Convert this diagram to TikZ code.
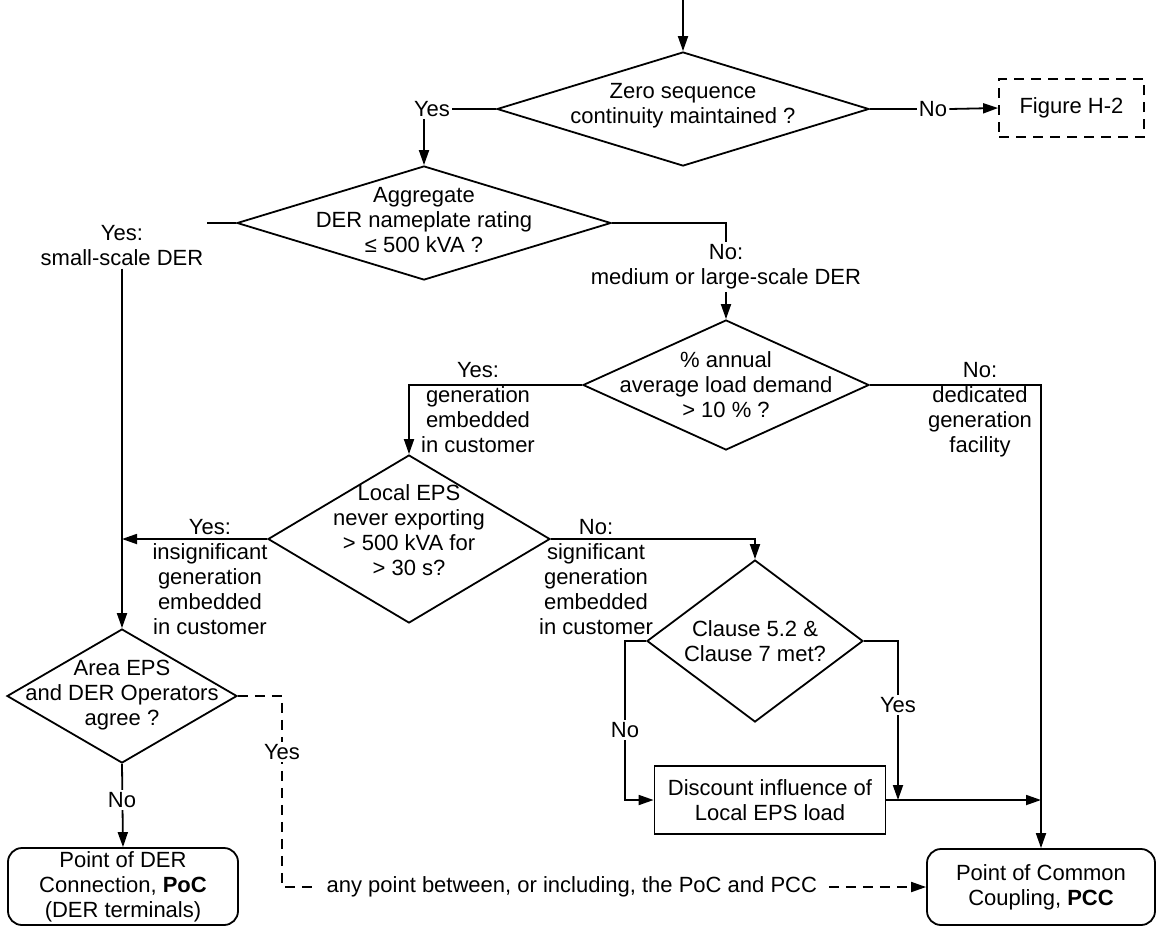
\documentclass[tikz,border=0pt]{standalone}
\usepackage{fontspec}
\setmainfont{Liberation Sans}
\usetikzlibrary{shapes.geometric,arrows.meta}
\begin{document}
\begin{tikzpicture}[x=0.5pt,y=-0.5pt,
  lbl/.style={font=\fontsize{11}{12.5}\selectfont, align=center, inner sep=1pt},
  ln/.style={line width=0.9pt},
  arr/.style={ln, -{Triangle[length=7.5pt,width=5pt]}},
  dsh/.style={dash pattern=on 5pt off 3.5pt},
  dia/.style 2 args={draw, ln, diamond, inner sep=0pt, minimum width=#1, minimum height=#2},
  box/.style={draw, ln, lbl, inner sep=0pt},
  wlbl/.style={lbl, fill=white}
]
\useasboundingbox (0,0) rectangle (1157,928);
% nodes
\coordinate (start) at (683,0);
\node[dia={186pt}{57pt}] (zero) at (683,109) {};
\node[lbl] (zerot) at (683,106) {Zero sequence\\continuity maintained ?};
\node[lbl] (yes1) at (432,109) {Yes};
\node[lbl] (no1) at (933,109) {No};
\node[box, dsh, minimum width=72.5pt, minimum height=29pt] (fig) at (1071.5,108) {Figure H-2};

\node[dia={187pt}{57pt}] (agg) at (424,223) {};
\node[lbl] (aggt) at (424,220) {Aggregate\\DER nameplate rating\\≤ 500 kVA ?};
\node[lbl] (sml) at (122,246) {Yes:\\small-scale DER};
\coordinate (smlR) at (207,223);
\node[lbl] (med) at (726,267) {No:\\medium or large-scale DER};

\node[dia={143pt}{65pt}] (pct) at (726,385) {};
\node[lbl] (pctt) at (726,385) {\% annual\\average load demand\\> 10 \% ?};
\node[lbl] (yes2) at (478,408) {Yes:\\generation\\embedded\\in customer};
\node[lbl] (no2) at (980,410) {No:\\dedicated\\generation\\facility};

\node[dia={141pt}{84pt}] (loc) at (409,539) {};
\node[lbl] (loct) at (409,530) {Local EPS\\never exporting\\> 500 kVA for\\> 30 s?};
\node[lbl] (yes3) at (210,577) {Yes:\\insignificant\\generation\\embedded\\in customer};
\node[lbl] (no3) at (596,577) {No:\\significant\\generation\\embedded\\in customer};

\node[dia={108pt}{81pt}] (cla) at (755,641) {};
\node[lbl] (clat) at (755,641) {Clause 5.2 \&\\Clause 7 met?};
\node[box, minimum width=115.5pt, minimum height=34pt] (disc) at (770,800) {Discount influence of\\Local EPS load};

\node[dia={115pt}{67pt}] (area) at (122,696) {};
\node[lbl] (areat) at (122,695) {Area EPS\\and DER Operators\\agree ?};

\node[box, rounded corners=7pt, minimum width=115pt, minimum height=38.5pt] (poc) at (123,886.5) {Point of DER\\Connection, \textbf{PoC}\\(DER terminals)};
\node[box, rounded corners=7pt, minimum width=114pt, minimum height=38pt] (pcc) at (1041,887) {Point of Common\\Coupling, \textbf{PCC}};

\coordinate (nocol) at (625,720);
\coordinate (yescol) at (898,720);
\coordinate (dA) at (282,696);

% connectors
\draw[arr] (start) -- (zero.north);
\draw[ln] (zero.west) -- (yes1.east);
\draw[arr] (agg.north |- yes1.south) -- (agg.north);
\draw[ln] (zero.east) -- (no1.west);
\draw[arr] (no1.east) -- (fig.west);
\draw[ln] (agg.west) -- (smlR);
\draw[arr] (sml.south) -- (area.north);
\draw[ln] (agg.east) -| (med.north);
\draw[arr] (med.south) -- (pct.north);
\draw[arr] (pct.west) -| (loc.north);
\draw[arr] (pct.east) -| (pcc.north);
\draw[arr] (loc.west) -- (loc.west -| sml.south);
\draw[arr] (loc.east) -| (cla.north);
\draw[arr] (cla.west) -| (nocol) |- (disc.west);
\draw[arr] (cla.east) -| (yescol |- disc.east);
\draw[arr] (disc.east) -- (disc.east -| pcc.north);
\draw[arr] (area.south) -- (poc.north);
\draw[arr, dsh] (area.east) -- (dA) -- (dA |- pcc.west) -- node[wlbl, pos=0.45, inner xsep=4pt] (anyp) {any point between, or including, the PoC and PCC} (pcc.west);

% labels on lines
\node[wlbl] (nol) at (625,730) {No};
\node[wlbl] (yesl) at (898,705) {Yes};
\node[wlbl] (no4) at (122,800) {No};
\node[wlbl] (yes4) at (282,752) {Yes};
\end{tikzpicture}
\end{document}
